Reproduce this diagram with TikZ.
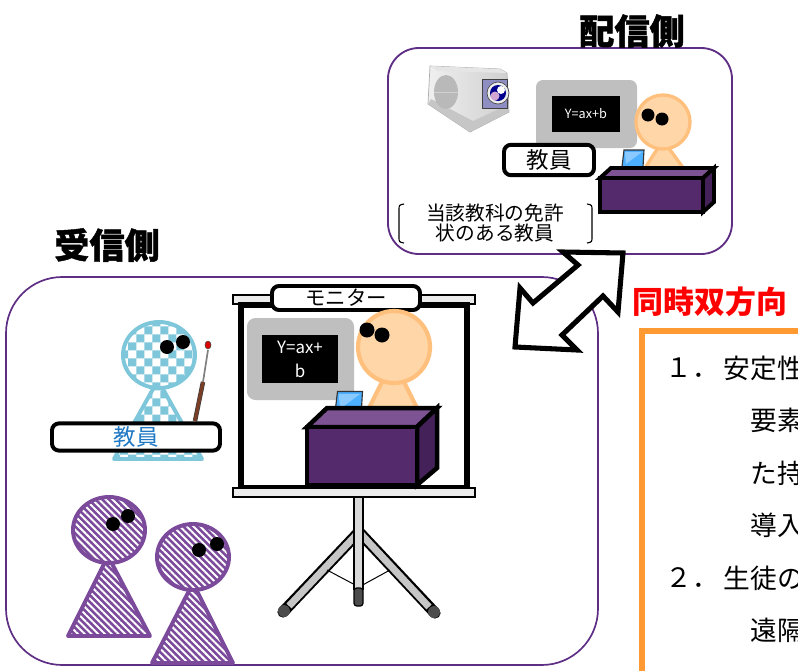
\documentclass[tikz,border=0pt]{standalone}
\usepackage{fontspec}
\setmainfont{Noto Sans CJK JP}
\usetikzlibrary{patterns, patterns.meta}

\definecolor{frameviolet}{HTML}{5E2D84}
\definecolor{deskfront}{HTML}{552A6C}
\definecolor{desktop}{HTML}{7D5393}
\definecolor{deskside}{HTML}{45215A}
\definecolor{skin}{HTML}{FFD6A8}
\definecolor{skinline}{HTML}{FFC07E}
\definecolor{teachblue}{HTML}{7EC6DA}
\definecolor{labelblue}{HTML}{1F78C4}
\definecolor{pupil}{HTML}{7B4A9B}
\definecolor{boardgray}{HTML}{BFBFBF}
\definecolor{linkorange}{HTML}{FF9A33}
\definecolor{stick}{HTML}{7A3E26}
\definecolor{lenspanel}{HTML}{8E8EC2}

% checkered fill for the teacher on the receiving side
\pgfdeclarepatternformonly{checker}{\pgfqpoint{-1pt}{-1pt}}{\pgfqpoint{12pt}{12pt}}%
  {\pgfqpoint{11.4pt}{11.4pt}}{%
  \pgfpathrectangle{\pgfpointorigin}{\pgfqpoint{5.7pt}{5.7pt}}%
  \pgfpathrectangle{\pgfqpoint{5.7pt}{5.7pt}}{\pgfqpoint{5.7pt}{5.7pt}}%
  \pgfusepath{fill}}

\tikzset{
  title/.style={font=\fontsize{25}{25}\selectfont\bfseries\addfontfeature{FakeBold=1.2}},
  tag/.style={draw=black, line width=2.8pt, rounded corners=5pt, fill=white,
              inner sep=0pt},
  deskline/.style={draw=black, line width=2.8pt, line join=miter},
  striped/.style={draw=pupil, line width=2.8pt, line join=round,
                  preaction={fill=pupil},
                  pattern={Lines[angle=-45, distance=3.4pt, line width=1.4pt]},
                  pattern color=white},
  checked/.style={draw=teachblue, line width=2.8pt, line join=round,
                  preaction={fill=white}, pattern=checker,
                  pattern color=teachblue},
  peach/.style={draw=skinline, fill=skin, line width=2.4pt, line join=round},
  boxtext/.style={font=\fontsize{19}{19}\selectfont, anchor=west},
  leg/.style={line width=8pt, line cap=round},
  legcore/.style={line width=5pt, gray!45},
  laptop/.pic={
    \fill[gray!35, draw=gray!60!black, line width=0.3pt]
      (0,2) -- (12,-5) -- (33,-5) -- (26,3) -- cycle;
    \draw[gray!70, line width=0.3pt] (6,0) -- (27,0) (9,-2) -- (29,-2);
    \draw[fill=blue!45!cyan!70, draw=gray!40!black, line width=0.8pt]
      (12,-5) -- (14,-22) -- (34,-22) -- (33,-5) -- cycle;
    \fill[white, opacity=0.35] (15,-20) -- (32,-20) -- (16,-8) -- cycle;
  }
}

\begin{document}
\begin{tikzpicture}[x=0.025cm, y=-0.025cm]
  \useasboundingbox (0,0) rectangle (798,671);
  \clip (0,0) rectangle (798,671);

  % sending side
  \draw[frameviolet, line width=1.3pt, rounded corners=22pt]
    (388,48) rectangle (732,254);
  \node[title] (sendlbl) at (632,31) {配信側};

  % camera
  \draw[gray!65, line width=0.5pt, left color=gray!12, right color=gray!38]
    (430,66) -- (500,69) -- (507,73) -- (509,112) -- (470,132) -- (428,104) -- cycle;
  \fill[gray!20] (430,66) -- (500,69) -- (507,73) -- (438,71) -- cycle;
  \fill[gray!45] (431,99) -- (473,121) -- (508,105) -- (509,112) -- (470,132)
    -- (428,104) -- cycle;
  \fill[gray!55] (446,92) ellipse[x radius=12, y radius=17];
  \draw[gray!35, line width=0.4pt] (434,92) -- (458,92);
  \draw[gray!50!black, line width=0.4pt, fill=lenspanel] (482,79) rectangle (507,108);
  \draw[gray!60!black, line width=0.5pt, fill=gray!15] (498,93) circle[radius=11];
  \fill[blue!55!black] (498,93) circle[radius=8];
  \fill[violet!35] (495,96) circle[radius=4.5];
  \fill[white] (501,90) circle[radius=4];

  % board with the formula
  \fill[boardgray, rounded corners=5pt] (536,80) rectangle (637,148);
  \node[fill=black, text=white, minimum width=1.72cm, minimum height=0.92cm,
        inner sep=0pt, font=\fontsize{9}{9}\selectfont] (eqtop) at (586,114) {Y=ax+b};

  % teacher at the desk
  \draw[peach] (663,140) -- (640,176) -- (689,176) -- cycle;
  \draw[peach] (663,122) circle[radius=27];
  \fill (648,115) circle[radius=6.5];
  \fill (662,119) circle[radius=6.5];
  \pic at (610,172) {laptop};
  \draw[deskline, fill=desktop] (600,178) -- (611,168) -- (714,168) -- (703,178) -- cycle;
  \draw[deskline, fill=deskside] (703,178) -- (714,168) -- (714,202) -- (703,212) -- cycle;
  \draw[deskline, fill=deskfront] (600,178) rectangle (703,212);

  \node[tag, minimum width=2.25cm, minimum height=0.76cm,
        font=\fontsize{16}{16}\selectfont] (tchtop) at (549,160) {教員};

  \node[align=center, font=\fontsize{14}{14.5}\selectfont] (licence) at (495,223)
    {当該教科の免許\\状のある教員};
  \draw[line width=0.8pt] (404,204) .. controls (399,205) .. (399,210) -- (399,237)
    .. controls (399,242) .. (404,243);
  \draw[line width=0.8pt] (587,204) .. controls (592,205) .. (592,210) -- (592,237)
    .. controls (592,242) .. (587,243);

  % receiving side
  \draw[frameviolet, line width=1.2pt, rounded corners=40pt]
    (6,277) rectangle (598,665);
  \node[title] (recvlbl) at (107,245) {受信側};

  % screen on its stand
  \draw[leg] (358,533) -- (283,612);
  \draw[legcore] (358,533) -- (289,606);
  \draw[leg] (360,533) -- (435,613);
  \draw[legcore] (360,533) -- (429,607);
  \fill[black!70] (284,611) circle[radius=6];
  \fill[black!70] (434,612) circle[radius=6];
  \draw[line width=0.7pt] (327,570) -- (359,587) -- (390,570);
  \draw[line width=0.9pt, fill=gray!30] (354,497) rectangle (363,589);
  \draw[line width=0.9pt, fill=black!70, rounded corners=2pt] (354,588) rectangle (363,606);

  \draw[line width=1.2pt, fill=gray!15] (233,295) rectangle (475,304);
  \draw[line width=4.5pt, fill=white] (241,305) rectangle (467,488);
  \draw[line width=1.2pt, fill=gray!15] (233,488) rectangle (475,497);
  \node[tag, minimum width=3.7cm, minimum height=0.6cm,
        font=\fontsize{14.5}{14.5}\selectfont] (monitor) at (346,298) {モニター};

  \fill[boardgray, rounded corners=6pt] (247,318) rectangle (354,400);
  \node[fill=black, text=white, align=center, minimum width=1.9cm,
        minimum height=1.2cm, inner sep=0pt,
        font=\fontsize{12}{17}\selectfont] (eqscreen) at (300,359) {Y=ax+\\b};

  \draw[peach, line width=3pt] (393,360) -- (365,416) -- (421,416) -- cycle;
  \draw[peach, line width=3pt] (394,347) circle[radius=36];
  \fill (367,330) circle[radius=7.5];
  \fill (382,335) circle[radius=7.5];
  \pic[scale=1.25] at (320,419) {laptop};
  \draw[deskline, line width=3.2pt, fill=desktop]
    (307,427) -- (327,408) -- (437,408) -- (417,427) -- cycle;
  \draw[deskline, line width=3.2pt, fill=deskside]
    (417,427) -- (437,408) -- (437,468) -- (417,485) -- cycle;
  \draw[deskline, line width=3.2pt, fill=deskfront] (307,427) rectangle (417,485);

  % teacher in the classroom
  \draw[checked] (158,380) -- (114,459) -- (202,459) -- cycle;
  \draw[checked] (159,355) ellipse[x radius=36, y radius=33];
  \fill (167,347) circle[radius=7];
  \fill (183,342) circle[radius=7];
  \draw[black!75, line width=3.2pt] (195,421) -- (203,382);
  \draw[stick, line width=2.2pt] (195,421) -- (203,382);
  \draw[gray, line width=1.2pt] (203,382) -- (208,350);
  \draw[black!70, fill=red!85!black, line width=0.4pt] (208,345) ellipse[x radius=3, y radius=4];
  \node[tag, minimum width=4.2cm, minimum height=0.68cm, text=labelblue,
        font=\fontsize{16}{16}\selectfont] (tchrecv) at (136,437) {教員};

  % pupils
  \draw[striped] (108,556) -- (68,636) -- (150,636) -- cycle;
  \draw[striped] (109,530) ellipse[x radius=36, y radius=33];
  \fill (113,524) circle[radius=7];
  \fill (128,516) circle[radius=7];
  \draw[striped] (193,583) -- (152,663) -- (233,663) -- cycle;
  \draw[striped] (193,557) ellipse[x radius=36, y radius=33];
  \fill (199,550) circle[radius=7];
  \fill (217,544) circle[radius=7];

  % two-way link
  \draw[fill=white, line width=3.6pt, line join=miter]
    (623,253) -- (618,312) -- (603,296) -- (562,335) -- (577,350) -- (515,347)
    -- (520,288) -- (533,303) -- (578,265) -- (563,252) -- cycle;
  \node[font=\fontsize{22}{22}\selectfont\bfseries, text=red] (sync) at (710,302)
    {同時双方向};

  % notes panel
  \draw[linkorange, line width=3.6pt] (642,700) -- (642,331) -- (830,331);
  \node[boxtext] (n1) at (661,368) {１．};
  \node[boxtext] (p1) at (719,368) {安定性};
  \node[boxtext] (p2) at (746,420) {要素};
  \node[boxtext] (p3) at (746,473) {た持};
  \node[boxtext] (p4) at (746,525) {導入};
  \node[boxtext] (n2) at (661,578) {２．};
  \node[boxtext] (p5) at (719,578) {生徒の};
  \node[boxtext] (p6) at (746,630) {遠隔};
\end{tikzpicture}
\end{document}
